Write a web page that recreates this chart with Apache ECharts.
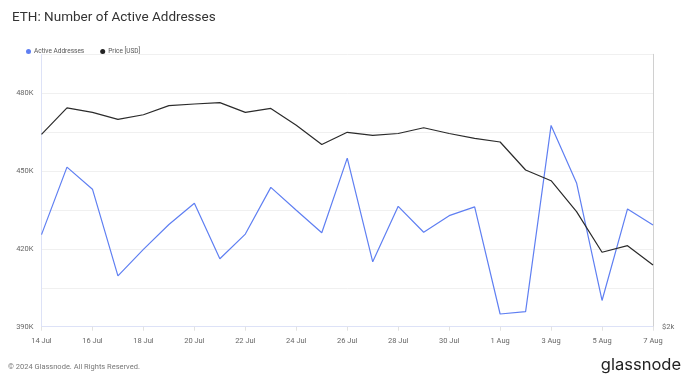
<!DOCTYPE html>
<html>
<head>
<meta charset="utf-8">
<script src="https://cdn.jsdelivr.net/npm/echarts@6/dist/echarts.min.js"></script>
<style>
html,body{margin:0;padding:0;background:#fff;}
#chart{width:694px;height:379px;}
</style>
</head>
<body>
<div id="chart"></div>
<script>
const categories = ['14 Jul','15 Jul','16 Jul','17 Jul','18 Jul','19 Jul','20 Jul','21 Jul','22 Jul','23 Jul','24 Jul','25 Jul','26 Jul','27 Jul','28 Jul','29 Jul','30 Jul','31 Jul','1 Aug','2 Aug','3 Aug','4 Aug','5 Aug','6 Aug','7 Aug'];
const activeAddresses = [425500,451500,443000,409600,419800,429400,437600,416200,425700,443700,434900,426200,455000,415000,436400,426400,432800,436200,394900,395800,467600,445400,400100,435400,429200];
const priceUSD = [3263,3490,3450,3390,3430,3510,3525,3537,3450,3485,3340,3180,3280,3255,3270,3318,3270,3230,3200,2980,2900,2680,2417,2458,2340];
const leftTicks = [390000,420000,450000,480000];

const chart = echarts.init(document.getElementById('chart'));
chart.setOption({
  animation:false,
  backgroundColor:'#fff',
  textStyle:{fontFamily:'Roboto, "Liberation Sans", sans-serif'},
  title:{text:'ETH: Number of Active Addresses',left:7,top:6,
    textStyle:{fontSize:13.5,fontWeight:'normal',color:'#333',fontFamily:'Roboto, sans-serif'}},
  legend:{left:21,top:43,icon:'circle',itemWidth:5,itemHeight:5,itemGap:16,
    textStyle:{fontSize:6.5,color:'#555',padding:[0,0,0,-2]},
    data:['Active Addresses','Price [USD]']},
  grid:{left:41.5,right:41,top:54.3,bottom:52.3},
  xAxis:{type:'category',data:categories,boundaryGap:false,
    axisLine:{lineStyle:{color:'#dde2f7',width:1}},
    axisTick:{show:true,interval:1,length:4,lineStyle:{color:'#e2e2e2'}},
    axisLabel:{interval:1,fontSize:7.5,color:'#666',margin:10}},
  yAxis:[{type:'value',min:390000,max:495000,interval:15000,position:'left',
    axisLine:{show:true,lineStyle:{color:'#dde2f7'}},
    axisTick:{show:false},
    splitLine:{lineStyle:{color:'#ececec',width:0.8}},
    axisLabel:{fontSize:7.5,color:'#666',margin:8,padding:[0,0,6,0],
      formatter:function(v){return leftTicks.indexOf(v)>=0 ? (v/1000)+'K' : '';}}},
   {type:'log',logBase:2,min:2000,max:4000,position:'right',
    axisLine:{show:true,lineStyle:{color:'#d0d0d0'}},
    axisTick:{show:false},splitLine:{show:false},
    axisLabel:{fontSize:7.5,color:'#666',margin:9,padding:[0,0,6,0],showMinLabel:true,
      formatter:function(v){return Math.abs(v-2000)<1?'$2k':'';}}}],
  series:[
    {name:'Active Addresses',type:'line',data:activeAddresses,yAxisIndex:0,
      showSymbol:false,symbol:'circle',itemStyle:{color:'#5f7ff2'},
      lineStyle:{color:'#5f7ff2',width:1.2}},
    {name:'Price [USD]',type:'line',data:priceUSD,yAxisIndex:1,
      showSymbol:false,symbol:'circle',itemStyle:{color:'#222'},
      lineStyle:{color:'#2b2b2b',width:1.2}}
  ],
  graphic:[
    {type:'text',left:8,top:363,style:{text:'© 2024 Glassnode. All Rights Reserved.',fontSize:7.5,fill:'#777',fontFamily:'Roboto, sans-serif'}},
    {type:'text',right:13,top:357,style:{text:'glassnode',fontSize:16.5,fill:'#222',fontFamily:'Inter, Roboto, sans-serif'}}
  ]
});
</script>
</body>
</html>
